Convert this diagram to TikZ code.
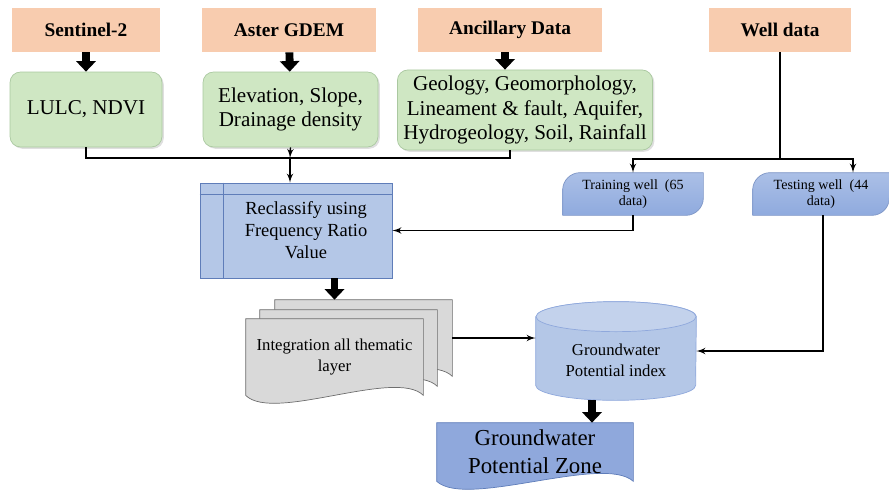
\documentclass[tikz,border=0pt]{standalone}
\usepackage{fontspec}
\setmainfont{Liberation Serif}
\usepackage{xcolor}
\usepackage{tikz}
\usetikzlibrary{calc}
\usetikzlibrary{arrows}
\usetikzlibrary{arrows.meta}
\usetikzlibrary{backgrounds}
\usetikzlibrary{shadows}
\tikzset{>=latex'}
\definecolor{peach}{RGB}{248,204,175}
\definecolor{leaf}{RGB}{207,231,195}
\definecolor{leafline}{RGB}{170,200,160}
\definecolor{paleblue}{RGB}{180,199,231}
\definecolor{midblue}{RGB}{143,170,222}
\definecolor{deepblue}{RGB}{143,168,220}
\definecolor{blueline}{RGB}{95,125,185}
\definecolor{sheet}{RGB}{217,217,217}
\definecolor{sheetline}{RGB}{110,110,110}
\tikzset{
	srcbox/.style={fill=peach,minimum height=0.88cm,font=\fontsize{11}{13}\selectfont\bfseries},
	layerbox/.style={draw=leafline,fill=leaf,rounded corners=6pt,align=center,minimum height=1.5cm,
		drop shadow={shadow xshift=1pt,shadow yshift=-1pt,opacity=0.25},font=\fontsize{12}{14}\selectfont},
	wellbox/.style={minimum height=0.84cm,align=center,inner sep=1pt,font=\fontsize{8}{9.5}\selectfont},
	docbox/.style={minimum width=3.54cm,minimum height=1.52cm,align=center,font=\fontsize{9.5}{12}\selectfont},
	link/.style={line width=0.8pt,->},
	bus/.style={line width=0.8pt},
	fatarrow/.style={line width=4.5pt,-{Triangle[length=6pt,width=11pt]}},
	docpath/.style={insert path={(#1.north west) -- (#1.north east) -- (#1.south east)
		.. controls ($(#1.south)+(0.35*\pgfkeysvalueof{/tikz/wave},0.55)$) and ($(#1.south)+(-0.35*\pgfkeysvalueof{/tikz/wave},-0.55)$) .. (#1.south west) -- cycle}},
	wave/.initial=3.5cm,
	wellpath/.style={insert path={(#1.south west) -- ([yshift=-0.35cm]#1.north west)
		arc[start angle=180,end angle=90,radius=0.35cm] -- (#1.north east)
		-- ([yshift=0.35cm]#1.south east) arc[start angle=0,end angle=-90,radius=0.35cm] -- cycle}},
}

\begin{document}
\begin{tikzpicture}
	\useasboundingbox (0,0) rectangle (17.78,-9.84);

	% sources
	\node[srcbox,minimum width=2.96cm] (s2) at (1.72,-0.60) {Sentinel-2};
	\node[srcbox,minimum width=3.48cm] (ag) at (5.78,-0.60) {Aster GDEM};
	\node[srcbox,minimum width=3.68cm] (ad) at (10.2,-0.60) {Ancillary Data};
	\node[srcbox,minimum width=2.84cm] (wd) at (15.6,-0.60) {Well data};

	% thematic layers
	\node[layerbox,minimum width=3.04cm] (lulc) at (1.72,-2.19) {LULC, NDVI};
	\node[layerbox,minimum width=3.5cm] (elev) at (5.81,-2.19) {Elevation, Slope,\\Drainage density};
	\node[layerbox,minimum width=5.0cm] (geo) at (10.5,-2.2) {Geology, Geomorphology,\\Lineament \& fault, Aquifer,\\Hydrogeology, Soil, Rainfall};

	\draw[fatarrow] (s2) -- (lulc);
	\draw[fatarrow] (ag) -- (elev);
	\draw[fatarrow] ([xshift=-0.1cm]ad.south) -- ([xshift=-0.1cm]ad.south |- geo.north);

	% reclassification
	\node[draw=blueline,fill=paleblue,minimum width=3.84cm,minimum height=1.9cm,align=center,
		font=\fontsize{10.5}{12.5}\selectfont] (recl) at (5.92,-4.61) {\hspace*{0.4cm}Reclassify using\\\hspace*{0.4cm}Frequency Ratio\\\hspace*{0.4cm}Value};
	\draw[blueline] ([yshift=-0.24cm]recl.north west) -- ([yshift=-0.24cm]recl.north east);
	\draw[blueline] ([xshift=0.48cm]recl.north west) -- ([xshift=0.48cm]recl.south west);

	\coordinate (join) at (5.8,-3.16);
	\draw[bus] (lulc.south) |- (join) -| ([xshift=-0.3cm]geo.south);
	\draw[link] (elev.south) -- (join);
	\draw[link] (join) -- (join |- recl.north);

	% wells
	\node[wellbox,minimum width=2.8cm] (trainw) at (12.66,-3.88) {Training well~~(65\\data)};
	\node[wellbox,minimum width=2.72cm] (testw) at (16.42,-3.88) {Testing well~~(44\\data)};
	\coordinate (wsplit) at (15.6,-3.18);
	\draw[bus] (wd.south) -- (wsplit);
	\draw[link] (wsplit) -| (trainw.north);
	\draw[link] (wsplit) -| ([xshift=0.64cm]testw.north);
	\draw[link] (trainw.south) |- (recl.east);

	% integration
	\node[docbox] (intg) at (6.69,-7.14) {Integration all thematic\\layer};
	\node[docbox] (intg2) at ($(intg)+(0.28,0.18)$) {};
	\node[docbox] (intg3) at ($(intg)+(0.58,0.38)$) {};
	\draw[fatarrow] (intg.north |- recl.south) -- (intg.north |- intg3.north);

	% index and zone
	\node[minimum width=3.2cm,minimum height=1.96cm,align=center,font=\fontsize{9.5}{12}\selectfont] (cyl) at (12.32,-7.02)
		{\rule{0pt}{17pt}Groundwater\\Potential index};
	\node[minimum width=3.92cm,minimum height=1.16cm,align=center,inner sep=1pt,font=\fontsize{13}{16}\selectfont] (zone) at (10.7,-9.04)
		{Groundwater\\Potential Zone};

	\draw[link] (intg3.east) -- (intg3.east -| cyl.west);
	\draw[link] ([xshift=0.04cm]testw.south) |- (cyl.east);
	\draw[fatarrow] ([xshift=-0.48cm]cyl.south) -- ([xshift=-0.48cm]cyl.south |- zone.north);

	\begin{scope}[on background layer]
		\draw[draw=sheetline,fill=sheet] [docpath=intg3];
		\draw[draw=sheetline,fill=sheet] [docpath=intg2];
		\draw[draw=sheetline,fill=sheet] [docpath=intg];
		\draw[draw=blueline,fill=deepblue,wave=3.9cm] [docpath=zone];
		\draw[draw=blueline!80,top color=midblue!75!white,bottom color=midblue] [wellpath=trainw];
		\draw[draw=blueline!80,top color=midblue!75!white,bottom color=midblue] [wellpath=testw];
		\draw[draw=deepblue,fill=paleblue] ([yshift=-0.3cm]cyl.north west) -- ([yshift=0.3cm]cyl.south west)
			arc[start angle=180,end angle=360,x radius=1.6cm,y radius=0.3cm]
			-- ([yshift=-0.3cm]cyl.north east) arc[start angle=0,end angle=180,x radius=1.6cm,y radius=0.3cm] -- cycle;
		\draw[draw=deepblue,fill=paleblue!80!white] ([yshift=-0.3cm]cyl.north) ellipse[x radius=1.6cm,y radius=0.3cm];
	\end{scope}
\end{tikzpicture}
\end{document}
